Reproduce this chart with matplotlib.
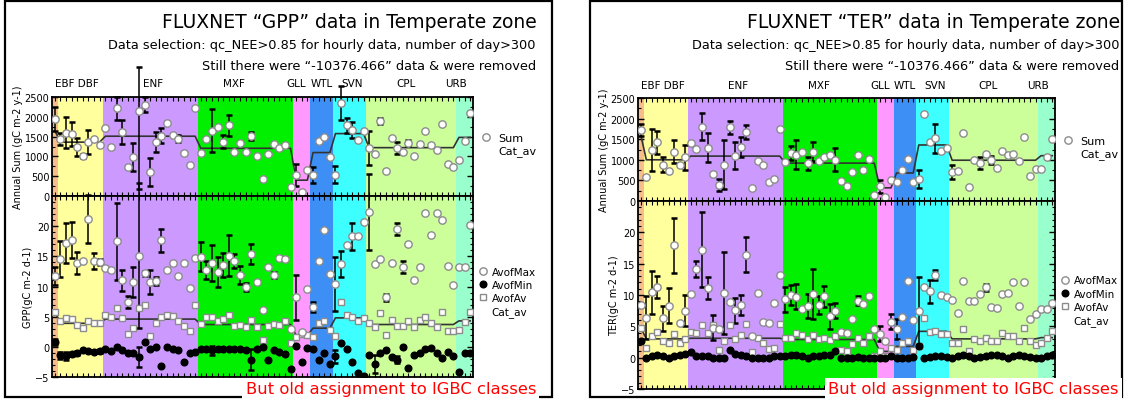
import numpy as np
import matplotlib
import matplotlib.pyplot as plt
from matplotlib.lines import Line2D
from matplotlib.patches import Rectangle

matplotlib.use('Agg')

W, H = 1124, 402

categories = ['EBF', 'DBF', 'ENF', 'MXF', 'GLL', 'WTL', 'SVN', 'CPL', 'URB']
site_counts = [1, 8, 17, 17, 3, 4, 6, 16, 3]
band_colors = ['#F7BE8C', '#FFFF9E', '#CC99FF', '#00F000', '#FF99FF',
               '#3D8FF5', '#3DFFFF', '#CCFF99', '#99FFCC']

# ---- GPP ----
gpp_sum = [1950,
           1450, 1600, 1575, 1245, 1015, 1360, 1430, 1290,
           1716, 1245, 2211, 1617, 726, 990, 2150, 2310, 602, 1360, 1526, 1856, 1551, 1452, 1097, 792, 2228,
           1097, 1427, 1650, 1733, 1370, 1782, 1122, 1328, 1122, 1510, 998, 437, 1073, 1304, 1221, 1287, 215,
           520, 110, 644,
           520, 1386, 1485, 990,
           536, 2351, 1782, 1675, 1403, 1650,
           1221, 1056, 1898, 619, 1469, 1205, 1122, 1345, 1015, 1320, 1634, 1279, 1163, 1823, 808, 730,
           900, 1400, 2100]
gpp_sum_err = [300,
               150, 400, 300, 230, 50, 300, 0, 0,
               0, 0, 300, 300, 0, 350, 1970, 200, 350, 250, 200, 0, 0, 100, 0, 0, 0,
               0, 0, 550, 0, 170, 270, 0, 0, 0, 100, 0, 0, 0, 0, 0, 0, 0,
               280, 0, 0,
               200, 0, 0, 0,
               220, 420, 200, 200, 0, 0,
               430, 0, 70, 0, 0, 150, 0, 80, 0, 0, 0, 0, 0, 0, 0, 0,
               0, 0, 0]
gpp_sum_err_up = {15: 1100}
gpp_cat_sum = [1650, 1360, 1510, 1205, 400, 1097, 1576, 1221, 1480]

gpp_max = [11.7,
           14.6, 17.2, 17.7, 13.9, 14.2, 21.2, 14.2, 14.1,
           13.1, 12.8, 17.5, 11.0, 7.4, 10.7, 15.1, 12.2, 10.8, 10.9, 17.7, 12.7, 13.9, 11.7, 13.9, 9.7, 14.7,
           14.9, 12.8, 13.9, 12.4, 13.6, 15.1, 14.2, 11.9, 9.9, 15.4, 10.8, 6.1, 13.2, 11.9, 14.8, 14.6, 3.0,
           8.2, 2.5, 9.6,
           6.6, 14.2, 19.3, 12.0,
           10.4, 13.7, 16.9, 18.3, 18.3, 20.7,
           22.3, 13.7, 14.6, 8.2, 13.9, 19.6, 13.2, 17.1, 11.0, 13.2, 22.1, 18.5, 22.2, 21.0, 13.4, 10.3,
           13.3, 13.3, 20.2]
gpp_max_err = [1.5,
               3.0, 3.3, 3.0, 1.9, 0, 4.0, 1.3, 0.5,
               0, 0, 6.4, 1.8, 1.0, 2.5, 12.0, 0.4, 2.0, 0.6, 1.9, 0, 0, 0, 0, 0, 0,
               2.4, 1.5, 3.0, 2.5, 2.0, 3.4, 1.2, 1.5, 0.6, 1.6, 0, 0, 0, 0.5, 0, 0, 0,
               3.7, 0, 0,
               0.8, 0, 0, 0,
               4.5, 2.2, 0, 2.3, 0, 0,
               6.3, 0, 0, 0.6, 0, 1.0, 1.0, 0, 0, 0, 0, 0, 0, 0, 0, 0,
               0, 0, 0]
gpp_min = [0.8,
           -1.4, -1.5, -1.2, -1.0, -0.6, -0.7, -0.8, -0.7,
           -0.4, -0.7, -0.1, -0.6, -1.0, -1.0, -1.7, 0.8, -0.3, 0.0, -3.1, 0.0, -0.3, -0.6, -2.5, -1.1, -0.9,
           -0.3, -0.4, -0.6, -0.4, -0.4, -0.3, -0.4, -0.3, -0.6, -2.1, -0.4, -0.1, -2.1, -0.6, -0.8, -1.2, -3.6,
           0.1, -2.5, -0.2,
           -0.4, -2.1, -1.1, -2.9,
           -1.6, 0.7, -0.4, -2.5, -4.4, -4.8,
           -1.4, -2.8, -1.0, -0.6, -1.7, -2.1, -0.1, -3.5, -1.4, -1.0, -0.4, -0.2, -1.0, -1.8, -0.9, -1.5,
           -4.2, -1.1, -1.0]
gpp_min_err = [0.5,
               0.6, 0.6, 0.4, 0.3, 0, 0, 0.3, 0.3,
               0, 0, 0, 0, 0, 0, 1.6, 0, 0, 0, 0, 0, 0, 0, 0, 0, 0,
               0, 0, 0.8, 0, 0, 0, 0, 0, 0, 1.7, 0, 0, 0, 0, 0, 0, 0,
               0, 0, 0,
               0, 0, 0, 0,
               1.0, 0, 0, 0, 0, 0,
               0, 1.5, 0, 0, 0, 0.5, 0, 0, 0, 0, 0, 0, 0, 0, 0, 0,
               0, 0, 0]
gpp_av = [5.8,
          4.2, 4.7, 4.6, 3.6, 3.1, 4.3, 4.0, 3.9,
          5.3, 4.9, 6.4, 4.7, 2.2, 3.2, 6.4, 6.9, 1.8, 3.9, 5.0, 5.3, 5.1, 4.3, 3.4, 2.6, 6.9,
          3.8, 5.0, 4.9, 4.2, 4.6, 5.3, 3.4, 3.6, 3.3, 4.4, 3.3, 1.2, 3.5, 3.8, 3.7, 4.3, 0.7,
          1.7, 2.1, 1.9,
          1.7, 4.0, 4.3, 2.8,
          1.8, 7.5, 5.3, 5.0, 4.3, 4.8,
          3.9, 3.3, 5.6, 1.9, 4.4, 3.4, 3.4, 4.2, 3.3, 4.4, 5.0, 4.0, 3.3, 5.7, 2.7, 2.6,
          2.8, 4.1, 5.8]
gpp_cat_day = [5.8, 3.9, 4.6, 3.7, 1.9, 3.1, 4.8, 3.7, 4.3]

# ---- TER ----
ter_sum = [1720,
           584, 1240, 1424, 880, 720, 1200, 864, 1056,
           1400, 1264, 1800, 1296, 664, 384, 880, 1784, 1104, 1320, 1664, 320, 960, 864, 464, 544, 1744,
           944, 1160, 1120, 1200, 920, 1200, 960, 1080, 1120, 1000, 480, 360, 704, 1120, 744, 1016, 144,
           360, 96, 520,
           464, 744, 1024, 464,
           544, 2120, 1440, 1520, 1216, 1296,
           704, 720, 1640, 344, 1000, 920, 1136, 1000, 800, 1224, 1120, 1136, 976, 1544, 600, 780,
           780, 1080, 1500]
ter_sum_err = [150,
               0, 500, 280, 180, 0, 280, 0, 300,
               0, 0, 330, 350, 0, 140, 600, 150, 330, 240, 170, 0, 0, 0, 0, 0, 0,
               0, 170, 350, 0, 160, 240, 0, 0, 0, 280, 0, 0, 0, 0, 0, 0, 0,
               160, 0, 0,
               0, 0, 0, 0,
               220, 0, 0, 350, 0, 0,
               180, 0, 0, 0, 0, 140, 0, 100, 0, 0, 0, 0, 0, 0, 0, 0,
               0, 0, 0]
ter_sum_err_up = {}
ter_cat_sum = [1600, 1000, 1090, 920, 320, 680, 1360, 990, 1100]

ter_max = [8.4,
           6.4, 10.4, 11.3, 6.3, 8.3, 17.9, 5.5, 7.5,
           10.2, 14.1, 17.2, 11.1, 4.8, 4.5, 10.3, 8.9, 7.6, 8.4, 16.4, 3.5, 10.3, 5.7, 5.5, 8.7, 13.2,
           9.3, 10.0, 9.7, 7.7, 8.2, 10.2, 8.4, 9.8, 6.6, 7.5, 4.1, 4.0, 6.1, 9.1, 8.6, 9.8, 4.5,
           3.8, 2.7, 5.7,
           4.5, 6.5, 12.3, 6.0,
           7.5, 11.2, 10.6, 13.2, 10.0, 9.7,
           9.2, 7.2, 12.2, 9.0, 9.1, 10.1, 11.2, 8.1, 8.0, 10.2, 10.3, 12.0, 8.2, 12.1, 6.1, 7.0,
           7.7, 7.8, 8.8]
ter_max_err = [0,
               3.5, 3.5, 1.8, 2.0, 2.8, 4.4, 0, 2.5,
               0, 1.3, 6.0, 1.8, 2.0, 0, 6.6, 0, 2.0, 1.6, 2.8, 0, 0, 0, 0, 0, 0,
               2.0, 1.6, 2.0, 0, 1.9, 4.0, 1.5, 1.7, 2.0, 1.2, 0, 0, 0, 0.7, 0, 0, 0,
               1.2, 0, 1.2,
               1.6, 0, 0, 0,
               5.4, 0, 1.8, 0.8, 0, 0,
               0, 0, 0, 0, 0, 0, 0.5, 0, 0, 0, 0, 0, 0, 0, 0, 0,
               0, 0, 0]
ter_min = [2.7,
           0.0, 0.3, 0.4, 0.2, 0.0, 0.2, 0.5, 0.6,
           0.9, 0.3, 0.2, 0.3, 0.0, 0.0, 0.0, 1.2, 0.6, 0.5, 0.3, 0.0, 0.0, 0.0, 0.0, 0.2, 0.3,
           0.2, 0.4, 0.5, 0.3, 0.0, 0.3, 0.3, 0.5, 0.5, 1.1, 0.0, 0.0, 0.0, 0.1, 0.0, 0.0, 0.0,
           0.0, 0.0, 0.3,
           0.0, 0.0, 0.0, 0.1,
           1.9, 0.0, 0.1, 0.3, 0.2, 0.1,
           0.0, 0.2, 0.4, 0.3, 0.0, 0.1, 0.3, 0.4, 0.5, 0.2, 0.0, 0.2, 0.4, 0.3, 0.1, 0.0,
           0.0, 0.3, 0.5]
ter_min_err = [0] * 75
ter_av = [4.8,
          1.6, 3.5, 4.1, 2.7, 2.3, 3.8, 2.3, 2.9,
          4.1, 4.0, 5.2, 3.9, 5.2, 1.2, 2.6, 5.2, 2.9, 3.6, 5.3, 0.9, 3.1, 2.4, 1.4, 1.6, 5.3,
          3.1, 3.2, 3.9, 3.6, 2.9, 3.6, 2.9, 3.2, 2.8, 3.4, 1.2, 1.0, 2.2, 3.1, 2.3, 3.4, 0.3,
          1.1, 0.3, 1.5,
          1.2, 2.3, 2.7, 1.2,
          1.9, 6.4, 4.1, 4.3, 3.7, 3.7,
          2.3, 2.3, 4.5, 1.0, 2.9, 2.7, 3.2, 2.7, 2.6, 4.0, 3.4, 3.5, 2.6, 4.7, 2.7, 2.0,
          2.3, 3.2, 4.2]
ter_cat_day = [4.8, 3.0, 3.1, 2.9, 1.0, 1.8, 4.2, 3.0, 3.2]

subtitle_1 = 'Data selection: qc_NEE>0.85 for hourly data, number of day>300'
subtitle_2 = 'Still there were \u201c-10376.466\u201d data & were removed'
note = 'But old assignment to IGBC classes'

label_shift = {'DBF': -0.5, 'ENF': 0.5, 'MXF': -2.0, 'GLL': -1.0, 'WTL': 0.0, 'SVN': 0.5, 'CPL': -1.0, 'URB': -1.5}


def box(x0, y0, x1, y1):
    return [x0 / W, 1 - y1 / H, (x1 - x0) / W, (y1 - y0) / H]


def expand(cat_values):
    out = []
    for v, n in zip(cat_values, site_counts):
        out += [v] * n
    return out


def add_bands(ax):
    start = 0.5
    for n, c in zip(site_counts, band_colors):
        ax.axvspan(start, start + n, color=c, lw=0, zorder=0)
        start += n


def draw_err(ax, x, y, err, err_up=None):
    x = np.asarray(x, float)
    y = np.asarray(y, float)
    lo = np.asarray(err, float)
    hi = lo.copy()
    for k, v in (err_up or {}).items():
        hi[k] = v
    m = (lo > 0) | (hi > 0)
    if not m.any():
        return
    eb = ax.errorbar(x[m], y[m], yerr=[lo[m], hi[m]], fmt='none', ecolor='black',
                     elinewidth=1.1, capsize=2, capthick=1.8, zorder=3)
    for art in list(eb.lines[1]) + list(eb.lines[2]):
        art.set_clip_on(False)


def style_axis(ax, n_sites):
    ax.set_xlim(0.5, n_sites + 0.5)
    ax.set_xticks([])
    ax.set_xticks(np.arange(1, n_sites + 1), minor=True)
    ax.tick_params(axis='x', which='minor', direction='in', length=3, width=0.8,
                   top=True, bottom=True, labelbottom=False)
    ax.tick_params(axis='y', which='both', direction='in', left=True, right=True,
                   labelsize=7, pad=2)
    ax.tick_params(axis='y', which='major', length=4, width=1)
    ax.tick_params(axis='y', which='minor', length=2, width=0.8)
    for s in ax.spines.values():
        s.set_linewidth(1.3)


def draw_panel(fig, top_rect, bot_rect, sums, sum_err, sum_err_up, cat_sum,
               vmax, vmax_err, vmin, vmin_err, vav, cat_day, day_label, lbl_y):
    n_sites = len(sums)
    x = np.arange(1, n_sites + 1)

    ax1 = fig.add_axes(top_rect)
    add_bands(ax1)
    ax1.plot(x, expand(cat_sum), color='#333333', lw=1.2, zorder=2)
    draw_err(ax1, x, sums, sum_err, sum_err_up)
    ax1.plot(x, sums, 'o', ms=5.3, mfc='white', mec='#8c8c8c', mew=1.0, zorder=4)
    ax1.set_ylim(0, 2500)
    ax1.set_yticks(np.arange(0, 2501, 500))
    ax1.set_yticks(np.arange(0, 2501, 250), minor=True)
    style_axis(ax1, n_sites)
    ax1.set_ylabel('Annual Sum (gC m-2 y-1)', fontsize=7, labelpad=1)

    start = 0.5
    for name, n in zip(categories, site_counts):
        if name != 'EBF':
            txt = 'EBF DBF' if name == 'DBF' else name
            ax1.text(start + n / 2 + label_shift[name], lbl_y, txt, fontsize=7.5,
                     ha='center', va='center', transform=ax1.get_xaxis_transform())
        start += n

    h_sum = [Line2D([], [], ls='none', marker='o', ms=5.3, mfc='white', mec='#8c8c8c'),
             Line2D([], [], color='none')]
    ax1.legend(h_sum, ['Sum', 'Cat_av'], loc='center left', bbox_to_anchor=(1.0, 0.52),
               frameon=False, fontsize=8, handlelength=1.0, handletextpad=0.6,
               labelspacing=0.25, borderaxespad=0.3)

    ax2 = fig.add_axes(bot_rect)
    add_bands(ax2)
    ax2.plot(x, expand(cat_day), color='#333333', lw=1.2, zorder=2)
    draw_err(ax2, x, vmax, vmax_err)
    draw_err(ax2, x, vmin, vmin_err)
    ax2.plot(x, vav, 's', ms=5.0, mfc='white', mec='#8c8c8c', mew=1.0, zorder=4)
    ax2.plot(x, vmin, 'o', ms=4.8, mfc='black', mec='black', zorder=4)
    ax2.plot(x, vmax, 'o', ms=5.3, mfc='white', mec='#8c8c8c', mew=1.0, zorder=5)
    ax2.set_ylim(-5, 25)
    ax2.set_yticks([-5, 0, 5, 10, 15, 20])
    ax2.set_yticks(np.arange(-5, 25, 1), minor=True)
    style_axis(ax2, n_sites)
    ax2.set_ylabel(day_label, fontsize=7, labelpad=1)

    h_day = [Line2D([], [], ls='none', marker='o', ms=5.3, mfc='white', mec='#8c8c8c'),
             Line2D([], [], ls='none', marker='o', ms=4.8, mfc='black', mec='black'),
             Line2D([], [], ls='none', marker='s', ms=5.0, mfc='white', mec='#8c8c8c'),
             Line2D([], [], color='none')]
    ax2.legend(h_day, ['AvofMax', 'AvofMin', 'AvofAv', 'Cat_av'], loc='center left',
               bbox_to_anchor=(1.0, 0.47), frameon=False, fontsize=7.5, handlelength=0.9,
               handletextpad=0.4, labelspacing=0.3, borderaxespad=0.1)
    return ax1, ax2


fig = plt.figure(figsize=(W / 100, H / 100), dpi=100)
fig.patch.set_facecolor('white')

draw_panel(fig, box(52, 98, 473, 197), box(52, 197, 473, 378),
           gpp_sum, gpp_sum_err, gpp_sum_err_up, gpp_cat_sum,
           gpp_max, gpp_max_err, gpp_min, gpp_min_err, gpp_av, gpp_cat_day,
           'GPP(gC m-2 d-1)', 1.14)
draw_panel(fig, box(638, 99, 1055, 202), box(638, 202, 1055, 390),
           ter_sum, ter_sum_err, ter_sum_err_up, ter_cat_sum,
           ter_max, ter_max_err, ter_min, ter_min_err, ter_av, ter_cat_day,
           'TER(gC m-2 d-1)', 1.13)

for x_right, x0, x1, gas in [(537, 5, 552, 'GPP'), (1120, 590, 1122, 'TER')]:
    fig.patches.append(Rectangle((x0 / W, 4 / H), (x1 - x0) / W, (400 - 4) / H, fill=False,
                                 ec='black', lw=1.6, transform=fig.transFigure, zorder=0))
    fig.text(x_right / W, 1 - 22 / H, 'FLUXNET \u201c%s\u201d data in Temperate zone' % gas,
             fontsize=13.5, ha='right', va='center')
    fig.text((x_right - 1) / W, 1 - 46 / H, subtitle_1, fontsize=9.3, ha='right', va='center')
    fig.text((x_right - 1) / W, 1 - 67 / H, subtitle_2, fontsize=9.3, ha='right', va='center')
    fig.text((x_right - 1) / W, 1 - 390 / H, note, fontsize=11.8, color='red', ha='right',
             va='center', zorder=10,
             bbox=dict(facecolor='white', edgecolor='none', pad=2.5))

fig.savefig('out.png', dpi=100)
